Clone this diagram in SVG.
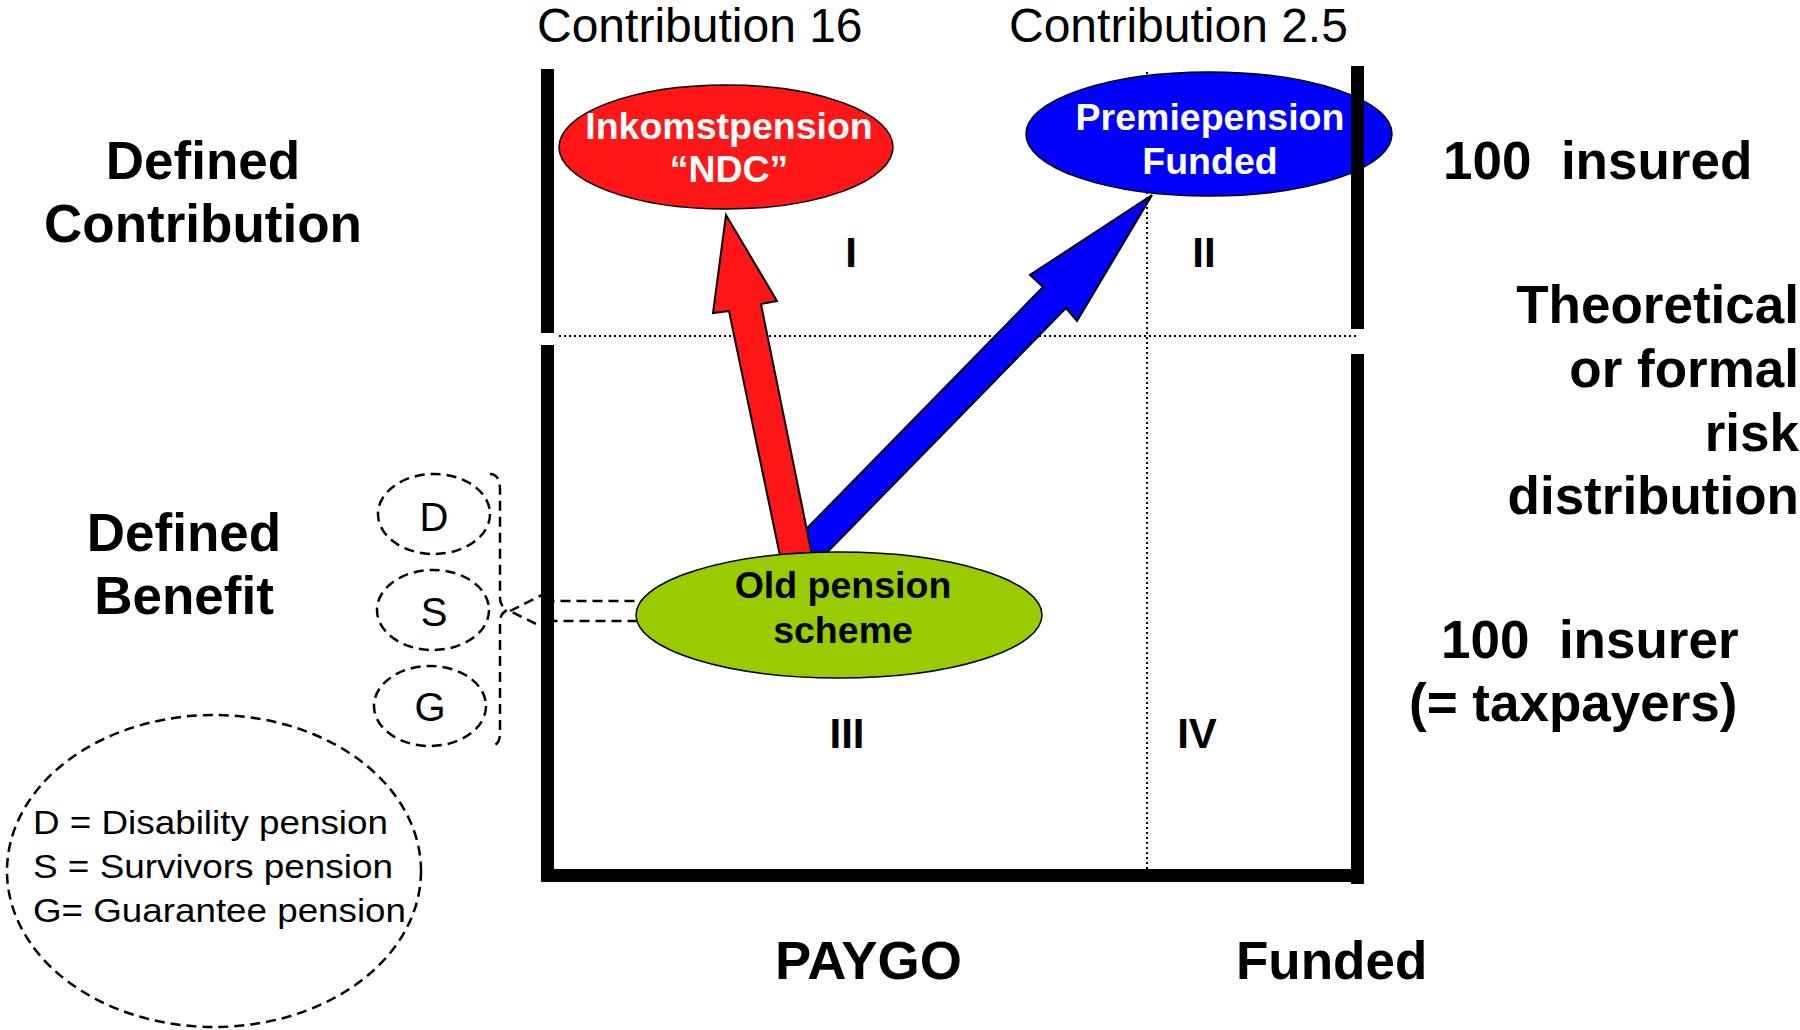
<svg xmlns="http://www.w3.org/2000/svg" width="1800" height="1030" viewBox="0 0 1800 1030">
<style>
.t{font-family:"Liberation Sans",Arial,sans-serif;fill:#000}
.w{fill:#fff}
.big{font-size:53px;font-weight:bold}
.top{font-size:48px}
.q{font-size:42px;font-weight:bold}
.el{font-size:37.5px;font-weight:bold}
.dot{stroke:#000;stroke-width:2;stroke-dasharray:2 3;fill:none}
.dash{stroke:#000;stroke-width:2.5;stroke-dasharray:10 6;fill:none}
.bar{fill:#000}
.node{stroke:#000;stroke-width:1.5}
</style>
<rect width="1800" height="1030" fill="#fff"/>

<!-- grid dotted lines -->
<g id="grid">
<line class="dot" x1="559" y1="336" x2="1358" y2="336"/>
<line class="dot" x1="1147" y1="72" x2="1147" y2="870"/>
</g>

<!-- connectors -->
<g id="connectors">
<path id="arrow-old-to-dsg" d="M510,611 L548,592 L548,601 L645,601 L645,621 L548,621 L548,630 Z" fill="#fff" stroke="#000" stroke-width="2.5" stroke-dasharray="10 6"/>
<path id="arrow-old-to-premie" d="M774,562 L1043,287 L1030,275 L1152,195 L1077,321 L1066,308 L805,575 Z" fill="#0000ff" stroke="#000" stroke-width="2"/>
<path id="arrow-old-to-inkomst" d="M784,575 L729,311 L713,313 L726,215 L777,301 L761,304 L816,575 Z" fill="#ff1616" stroke="#000" stroke-width="2"/>
</g>

<!-- nodes -->
<g id="node-inkomstpension">
<ellipse class="node" cx="726" cy="147" rx="167" ry="62" fill="#ff1616"/>
<text class="t el w" x="729" y="139" text-anchor="middle">Inkomstpension</text>
<text class="t el w" x="729" y="182" text-anchor="middle">“NDC”</text>
</g>
<g id="node-premiepension">
<ellipse class="node" cx="1209" cy="134" rx="183" ry="62" fill="#0000ff"/>
<text class="t el w" x="1210" y="130" text-anchor="middle">Premiepension</text>
<text class="t el w" x="1210" y="174" text-anchor="middle">Funded</text>
</g>
<g id="node-old-pension">
<ellipse class="node" cx="839" cy="615" rx="203" ry="63" fill="#99cc00"/>
<text class="t el" x="843" y="598" text-anchor="middle">Old pension</text>
<text class="t el" x="843" y="643" text-anchor="middle">scheme</text>
</g>

<!-- frame -->
<g id="frame">
<rect class="bar" x="541" y="69" width="13" height="264"/>
<rect class="bar" x="541" y="345" width="13" height="537"/>
<rect class="bar" x="1351" y="66" width="13" height="263"/>
<rect class="bar" x="1351" y="354" width="13" height="530"/>
<rect class="bar" x="541" y="869" width="823" height="13"/>
</g>

<!-- D S G -->
<g id="node-d">
<ellipse class="dash" cx="434" cy="514" rx="56" ry="40"/>
<text class="t" x="434" y="531" font-size="40" text-anchor="middle">D</text>
</g>
<g id="node-s">
<ellipse class="dash" cx="433" cy="610" rx="56" ry="40"/>
<text class="t" x="434" y="626" font-size="40" text-anchor="middle">S</text>
</g>
<g id="node-g">
<ellipse class="dash" cx="430" cy="706" rx="56" ry="40"/>
<text class="t" x="430" y="721" font-size="40" text-anchor="middle">G</text>
</g>
<g id="bracket">
<path class="dash" d="M490,474 Q500,474 500,490 L500,598 Q500,606 507,610 Q500,614 500,622 L500,733 Q500,746 490,746"/>
</g>

<!-- legend -->
<g id="legend">
<ellipse class="dash" cx="214" cy="871" rx="207" ry="156"/>
<text class="t" x="33" y="834" font-size="33" textLength="355" lengthAdjust="spacingAndGlyphs">D = Disability pension</text>
<text class="t" x="33" y="878" font-size="33" textLength="360" lengthAdjust="spacingAndGlyphs">S = Survivors pension</text>
<text class="t" x="33" y="922" font-size="33" textLength="373" lengthAdjust="spacingAndGlyphs">G= Guarantee pension</text>
</g>

<!-- labels -->
<g id="labels">
<text class="t top" x="537" y="42">Contribution 16</text>
<text class="t top" x="1009" y="42">Contribution 2.5</text>
<text class="t big" x="203" y="179" text-anchor="middle">Defined</text>
<text class="t big" x="203" y="242" text-anchor="middle">Contribution</text>
<text class="t big" x="184" y="551" text-anchor="middle">Defined</text>
<text class="t big" x="184" y="614" text-anchor="middle">Benefit</text>
<text class="t big" x="1443" y="179" style="white-space:pre">100  insured</text>
<text class="t big" x="1799" y="323" text-anchor="end">Theoretical</text>
<text class="t big" x="1799" y="387" text-anchor="end">or formal</text>
<text class="t big" x="1799" y="451" text-anchor="end">risk</text>
<text class="t big" x="1799" y="514" text-anchor="end">distribution</text>
<text class="t big" x="1441" y="658" style="white-space:pre">100  insurer</text>
<text class="t big" x="1409" y="721">(= taxpayers)</text>
<text class="t big" x="775" y="979" textLength="187" lengthAdjust="spacingAndGlyphs">PAYGO</text>
<text class="t big" x="1236" y="979">Funded</text>
<text class="t q" x="851" y="267" text-anchor="middle">I</text>
<text class="t q" x="1204" y="267" text-anchor="middle">II</text>
<text class="t q" x="847" y="748" text-anchor="middle">III</text>
<text class="t q" x="1197" y="748" text-anchor="middle">IV</text>
</g>
</svg>
